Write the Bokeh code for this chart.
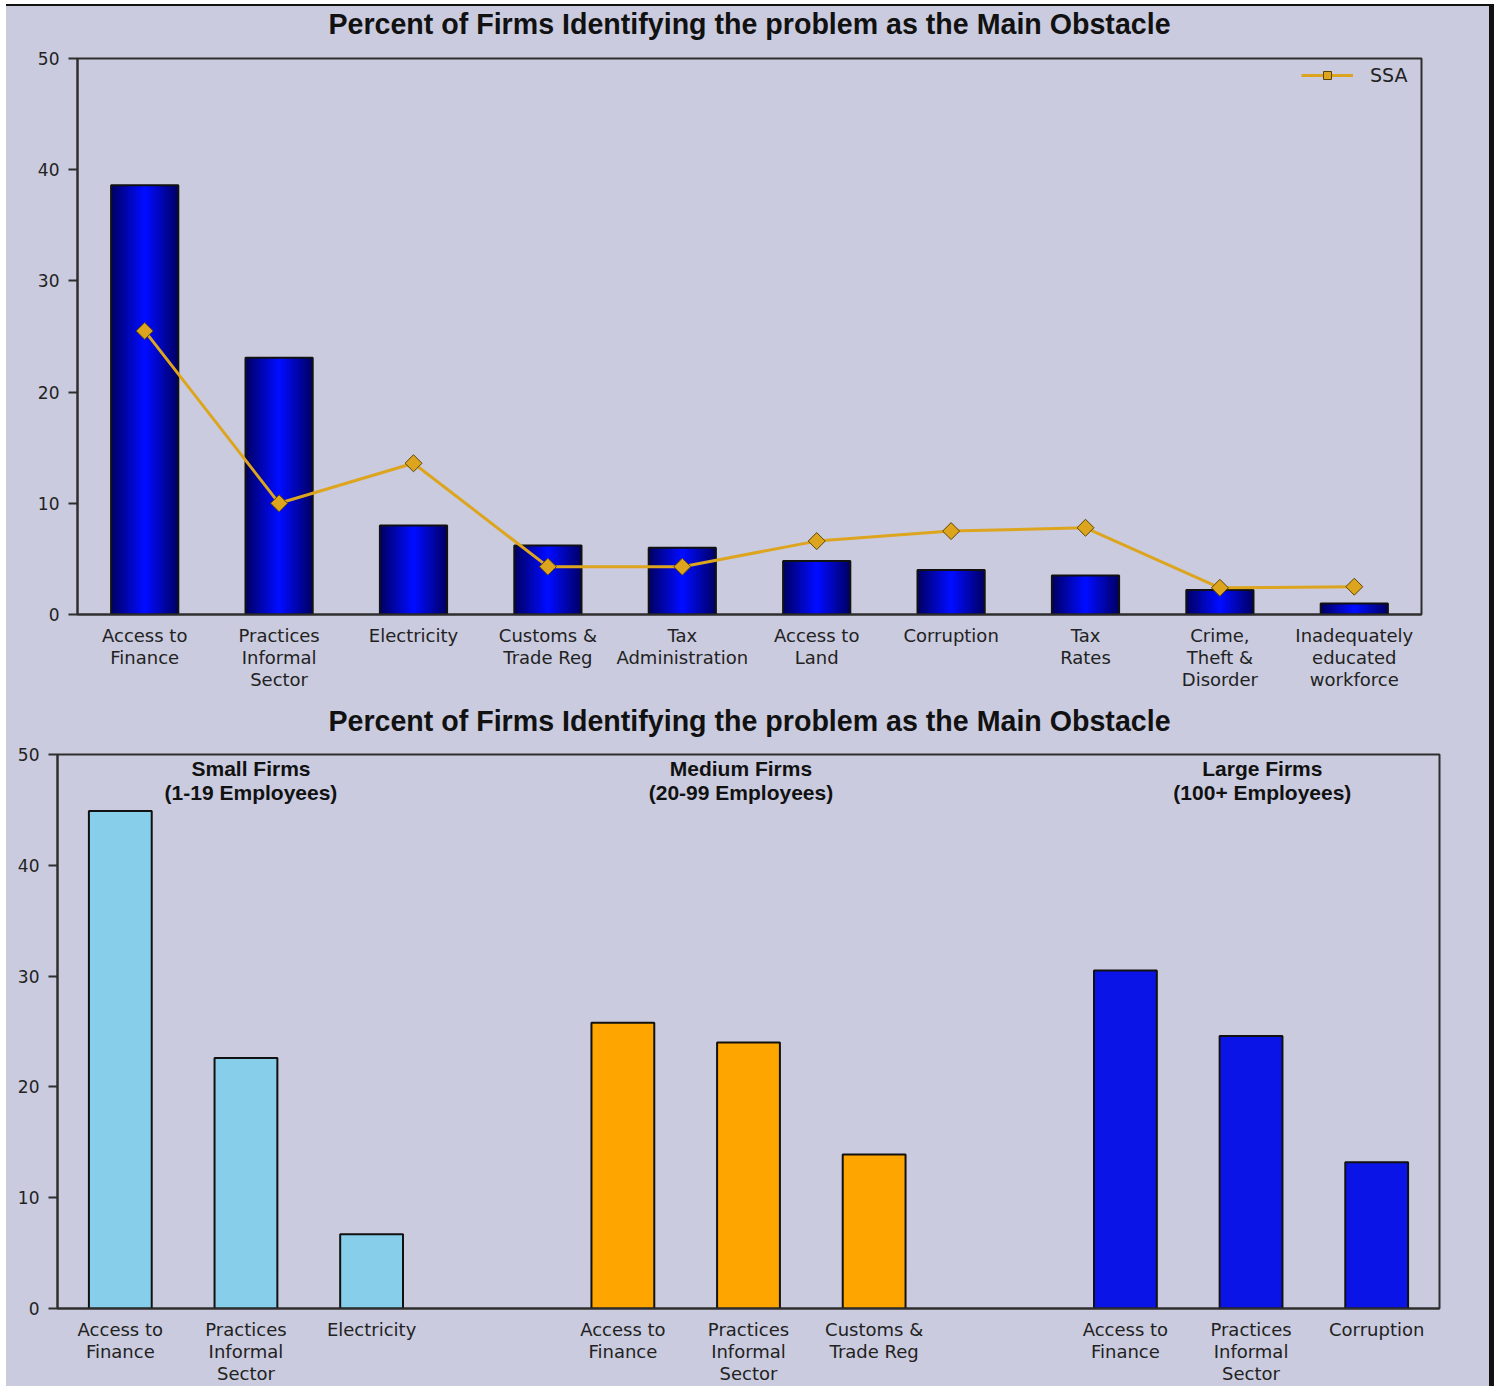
import math
from bokeh.plotting import figure
from bokeh.models import ColumnDataSource, FixedTicker, Legend, LegendItem, Range1d
from bokeh.layouts import column
from bokeh.embed import file_html
from bokeh.resources import INLINE
from bokeh.core.properties import value

# ---------------- data ----------------
title_text = "Percent of Firms Identifying the problem as the Main Obstacle"

obstacles = ["Access to\nFinance", "Practices\nInformal\nSector", "Electricity",
             "Customs &\nTrade Reg", "Tax\nAdministration", "Access to\nLand",
             "Corruption", "Tax\nRates", "Crime,\nTheft &\nDisorder",
             "Inadequately\neducated\nworkforce"]
country_values = [38.6, 23.1, 8.0, 6.2, 6.0, 4.8, 4.0, 3.5, 2.2, 1.0]
ssa_values = [25.5, 10.0, 13.6, 4.3, 4.3, 6.6, 7.5, 7.8, 2.4, 2.5]
ssa_label = "SSA"

group_names = ["Small Firms\n(1-19 Employees)", "Medium Firms\n(20-99 Employees)",
               "Large Firms\n(100+ Employees)"]
small_labels = ["Access to\nFinance", "Practices\nInformal\nSector", "Electricity"]
small_values = [44.9, 22.6, 6.7]
medium_labels = ["Access to\nFinance", "Practices\nInformal\nSector", "Customs &\nTrade Reg"]
medium_values = [25.8, 24.0, 13.9]
large_labels = ["Access to\nFinance", "Practices\nInformal\nSector", "Corruption"]
large_values = [30.5, 24.6, 13.2]

y_ticks = [0, 10, 20, 30, 40, 50]
y_max = 50

# ---------------- styles ----------------
BG = "#CACBDE"
AXIS = "#2e2e2e"
TXT = "#222222"
TICK_FONT = "DejaVu Sans"
TITLE_FONT = "Liberation Sans"
group_colors = ["#87CEEB", "#FFA500", "#0A14E6"]
SSA_COLOR = "#DDA51E"
group_label_shift = [0.04, -0.06, 0.09]
W = 1483


def style_axes(p):
    p.frame_align = False
    p.background_fill_color = BG
    p.border_fill_color = BG
    p.outline_line_color = AXIS
    p.outline_line_width = 2
    p.xgrid.visible = False
    p.ygrid.visible = False
    p.yaxis.ticker = FixedTicker(ticks=y_ticks)
    for ax in (p.xaxis[0], p.yaxis[0]):
        ax.axis_line_color = AXIS
        ax.axis_line_width = 2
        ax.major_tick_line_color = AXIS
        ax.major_tick_line_width = 2
        ax.minor_tick_line_color = None
        ax.major_label_text_color = TXT
        ax.major_label_text_font = TICK_FONT
    p.yaxis.major_tick_out = 9
    p.yaxis.major_tick_in = 0
    p.yaxis.major_label_text_font_size = "17px"
    p.yaxis.major_label_standoff = 9
    p.xaxis.major_tick_out = 0
    p.xaxis.major_tick_in = 0
    p.xaxis.major_label_text_font_size = "18px"
    p.xaxis.major_label_text_line_height = 1.05
    p.xaxis.major_label_standoff = 10


def title_figure(height, xcenter, ycenter):
    f = figure(width=W, height=height, output_backend="svg", toolbar_location=None,
               x_range=Range1d(0, 1), y_range=Range1d(0, 1),
               x_axis_type=None, y_axis_type=None,
               min_border_left=0, min_border_right=0,
               min_border_top=0, min_border_bottom=0)
    f.frame_align = False
    f.background_fill_color = BG
    f.border_fill_color = BG
    f.outline_line_color = None
    tsrc = ColumnDataSource(dict(x=[xcenter], y=[ycenter], text=[title_text]))
    f.text(x="x", y="y", text="text", source=tsrc, text_align="center",
           text_baseline="middle", text_font=value(TITLE_FONT),
           text_font_size="28.6px", text_font_style="bold", text_color="#111111")
    return f


# ---------------- top chart ----------------
n = len(obstacles)
xs = [i + 0.5 for i in range(n)]
src = ColumnDataSource(dict(x=xs, top=country_values, ssa=ssa_values))

t1 = title_figure(40, 0.501, 0.575)
p1 = figure(width=W, height=649, output_backend="svg", toolbar_location=None,
            x_range=Range1d(0, n), y_range=Range1d(0, y_max),
            min_border_left=71, min_border_right=68, min_border_top=12,
            min_border_bottom=81)
style_axes(p1)

# gradient-like shading: stacked narrower bars from dark edge to bright centre
layers = 12
for k in range(layers):
    t = k / (layers - 1)
    w = 0.5 * (1 - t * 0.92)
    g = int(12 * t)
    b = int(105 + 150 * t)
    p1.vbar(x="x", top="top", bottom=0, width=w, source=src,
            fill_color="#%02x%02x%02x" % (0, g, b), line_color=None)
p1.vbar(x="x", top="top", bottom=0, width=0.5, source=src,
        fill_alpha=0, line_color="#111111", line_width=2)

ln = p1.line(x="x", y="ssa", source=src, line_color=SSA_COLOR, line_width=3)
mk = p1.scatter(x="x", y="ssa", source=src, marker="square", size=12,
                angle=math.pi / 4, fill_color=SSA_COLOR, line_color="#5a4500",
                line_width=1)
legend = Legend(items=[LegendItem(label=ssa_label, renderers=[ln, mk])],
                location="top_right", background_fill_alpha=0,
                border_line_alpha=0, label_text_font=TICK_FONT,
                label_text_font_size="19px", label_text_color=TXT,
                glyph_width=52, label_standoff=17, label_width=45,
                margin=0, padding=6)
p1.add_layout(legend)

p1.xaxis.ticker = FixedTicker(ticks=xs)
p1.xaxis.major_label_overrides = {x: lab for x, lab in zip(xs, obstacles)}

# ---------------- bottom chart ----------------
groups = [(small_labels, small_values), (medium_labels, medium_values),
          (large_labels, large_values)]
bx, btop, bcol, blab = [], [], [], []
for gi, (labs, vals) in enumerate(groups):
    for j, (lab, v) in enumerate(zip(labs, vals)):
        bx.append(gi * 4 + j + 0.5)
        btop.append(v)
        bcol.append(group_colors[gi])
        blab.append(lab)
xmax = 4 * len(groups) - 1
bsrc = ColumnDataSource(dict(x=bx, top=btop, color=bcol))

t2 = title_figure(45, 0.501, 0.44)
p2 = figure(width=W, height=646, output_backend="svg", toolbar_location=None,
            x_range=Range1d(0, xmax), y_range=Range1d(0, y_max),
            min_border_left=51, min_border_right=50, min_border_top=14,
            min_border_bottom=76)
style_axes(p2)
p2.vbar(x="x", top="top", bottom=0, width=0.5, source=bsrc,
        fill_color="color", line_color="#111111", line_width=2)
p2.xaxis.ticker = FixedTicker(ticks=bx)
p2.xaxis.major_label_overrides = {x: lab for x, lab in zip(bx, blab)}

gsrc = ColumnDataSource(dict(
    x=[gi * 4 + 1.5 + group_label_shift[gi] for gi in range(len(groups))],
    y=[49.75] * len(groups), text=group_names))
p2.text(x="x", y="y", text="text", source=gsrc, text_align="center",
        text_baseline="top", text_font=value(TITLE_FONT), text_font_size="21px",
        text_font_style="bold", text_color="#111111", text_line_height=1.05)

layout = column(t1, p1, t2, p2, spacing=0, margin=(4, 0, 0, 6),
                styles={"border-top": "2px solid #111111",
                        "border-right": "5px solid #111111",
                        "background-color": BG})
open("out.html", "w").write(file_html(layout, INLINE))
